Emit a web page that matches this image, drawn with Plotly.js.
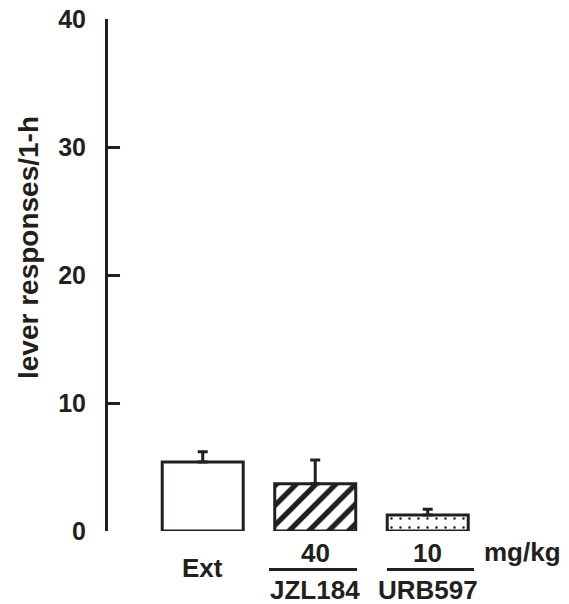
<!DOCTYPE html>
<html>
<head>
<meta charset="utf-8">
<script src="https://cdn.plot.ly/plotly-3.0.1.min.js"></script>
<style>html,body{margin:0;padding:0;background:#fff;}#chart{width:569px;height:604px;}</style>
</head>
<body>
<div id="chart"></div>
<script>
const groups = ['Ext', 'JZL184', 'URB597'];
const doses = ['', '40', '10'];
const doseUnit = 'mg/kg';
const means = [5.4, 3.7, 1.25];
const sem = [0.8, 1.85, 0.45];
const patterns = ['', '/', '.'];
const yTicks = [0, 10, 20, 30, 40];
const yTitle = 'lever responses/1-h';

const ink = '#231f20';
const fontFam = '"Liberation Sans", Arial, Helvetica, sans-serif';
const xs = groups.map((_, i) => i);

const trace = {
  type: 'bar',
  x: xs,
  y: means,
  width: 0.72,
  marker: {
    color: 'white',
    line: {color: ink, width: 3},
    pattern: {
      shape: patterns,
      fgcolor: ink,
      bgcolor: 'white',
      fgopacity: 1,
      size: patterns.map(p => p === '/' ? 14 : 9),
      solidity: patterns.map(p => p === '/' ? 0.38 : 0.06),
      fillmode: 'replace'
    }
  },
  error_y: {
    type: 'data', symmetric: false,
    array: sem, arrayminus: sem.map(() => 0),
    color: ink, thickness: 3, width: 5
  },
  hoverinfo: 'none'
};

// layout geometry
const L = 108, T = 19, W = 442, H = 512;
const xMin = -0.842, xMax = xMin + W / 112.5;
const px = v => (v - L) / W;          // pixel x -> paper x
const py = v => (T + H - v) / H;      // pixel y -> paper y

const lblFont = {family: fontFam, size: 26, color: ink, weight: 'bold'};
const annotations = [];
groups.forEach((g, i) => {
  if (doses[i]) {
    annotations.push({x: i, xref: 'x', y: py(553), yref: 'paper', text: doses[i], showarrow: false,
      xanchor: 'center', yanchor: 'middle', font: lblFont});
    annotations.push({x: i, xref: 'x', y: py(589.5), yref: 'paper', text: g, showarrow: false,
      xanchor: 'center', yanchor: 'middle', font: lblFont});
  } else {
    annotations.push({x: i, xref: 'x', y: py(568), yref: 'paper', text: g, showarrow: false,
      xanchor: 'center', yanchor: 'middle', font: lblFont});
  }
});
annotations.push({x: px(522), xref: 'paper', y: py(552), yref: 'paper', text: doseUnit, showarrow: false,
  xanchor: 'center', yanchor: 'middle', font: lblFont});
// y-axis title
annotations.push({x: px(28), xref: 'paper', y: py(248), yref: 'paper', text: yTitle, showarrow: false,
  textangle: -90, xanchor: 'center', yanchor: 'middle',
  font: {family: fontFam, size: 28, color: ink, weight: 'bold'}});

const shapes = [
  {type: 'line', xref: 'paper', yref: 'paper', x0: px(269), x1: px(357), y0: py(569.5), y1: py(569.5), line: {color: ink, width: 3}},
  {type: 'line', xref: 'paper', yref: 'paper', x0: px(387), x1: px(474), y0: py(569.5), y1: py(569.5), line: {color: ink, width: 3}}
];

const layout = {
  width: 569, height: 604,
  margin: {l: L, t: T, r: 569 - L - W, b: 604 - T - H, pad: 0},
  paper_bgcolor: 'white', plot_bgcolor: 'white',
  showlegend: false,
  xaxis: {range: [xMin, xMax], visible: false, fixedrange: true},
  yaxis: {
    range: [0, 40], tickvals: yTicks, ticktext: yTicks.map(String),
    ticks: 'inside', ticklen: 12, tickwidth: 3, tickcolor: ink,
    showline: true, linewidth: 3, linecolor: ink,
    showgrid: false, zeroline: false, ticklabelstandoff: 14,
    tickfont: {family: fontFam, size: 25, color: ink, weight: 'bold'},
    fixedrange: true
  },
  annotations: annotations,
  shapes: shapes
};

Plotly.newPlot('chart', [trace], layout, {staticPlot: true, displayModeBar: false});
</script>
</body>
</html>
